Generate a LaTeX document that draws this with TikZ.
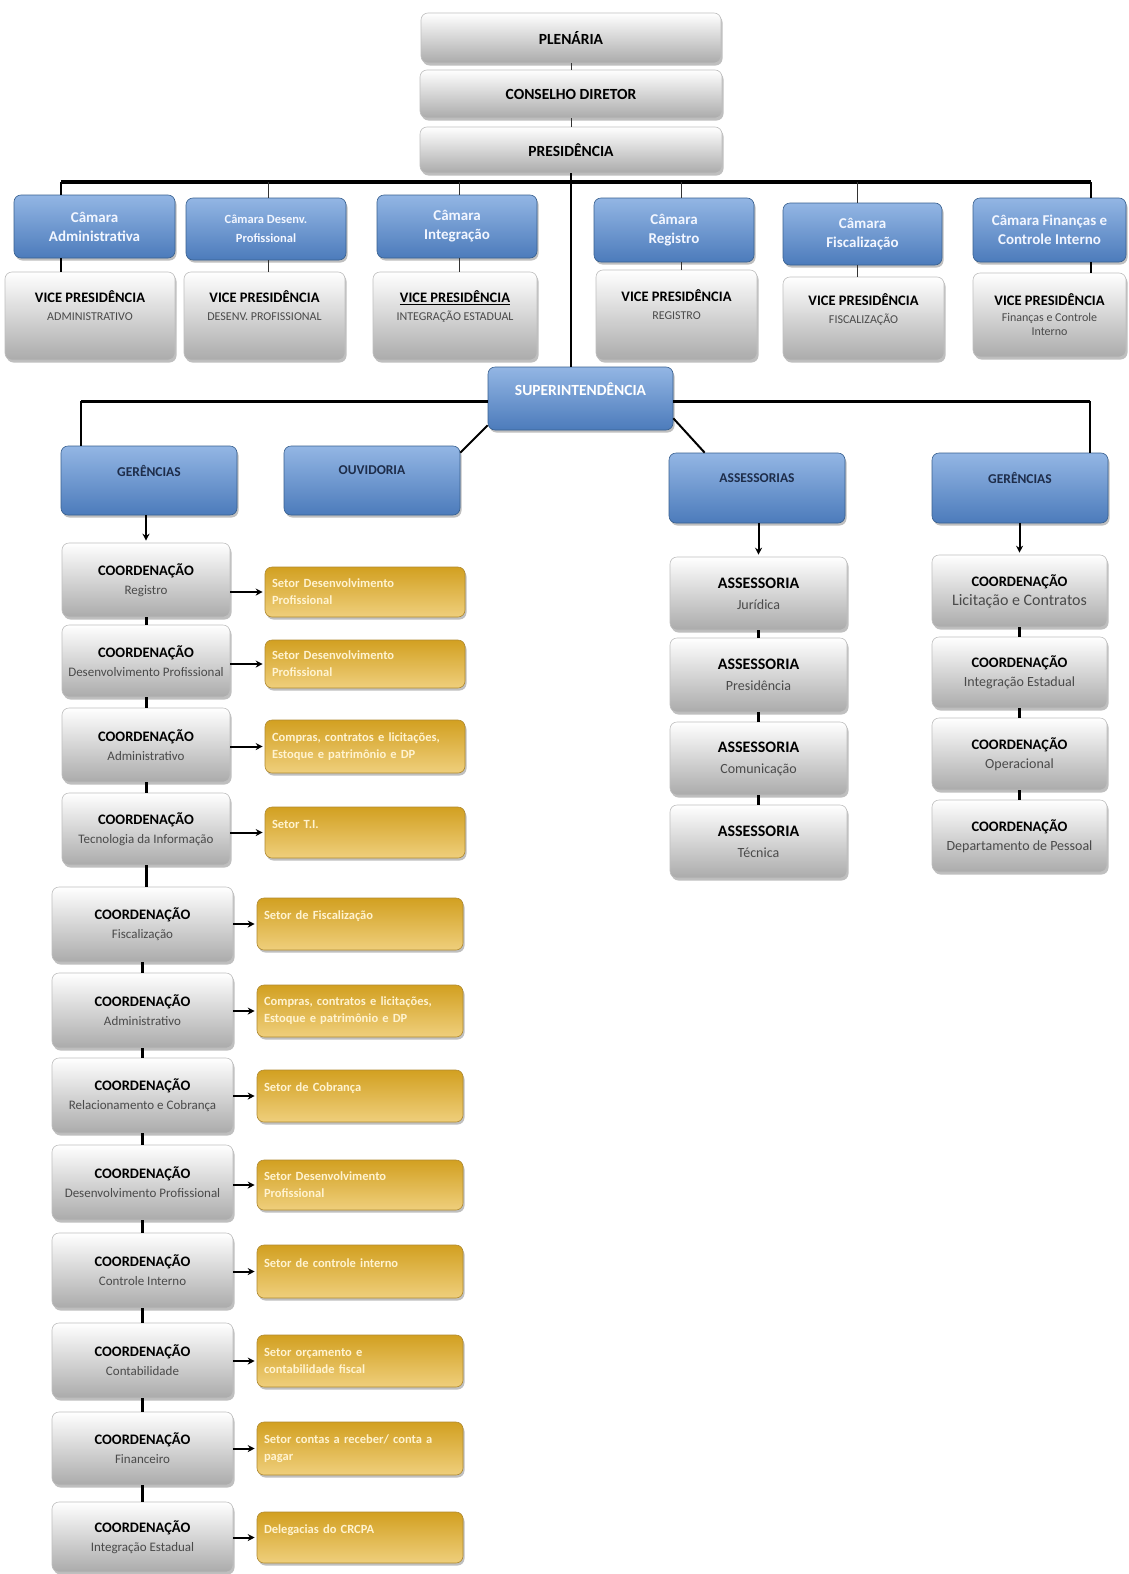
\documentclass[tikz,border=0pt]{standalone}
\usepackage{fontspec}
\setmainfont{Carlito}
\usetikzlibrary{shadows,arrows.meta,calc}
\definecolor{bluetop}{HTML}{93B6E4}
\definecolor{bluebot}{HTML}{4C7BBB}
\definecolor{blueedge}{HTML}{38608F}
\definecolor{navy}{HTML}{1E2D4A}
\definecolor{goldtop}{HTML}{D2A021}
\definecolor{goldbot}{HTML}{EFCF7C}
\definecolor{goldedge}{HTML}{B08A30}
\definecolor{goldtext}{HTML}{FFF3D0}
\definecolor{subc}{HTML}{4A4A4A}
\definecolor{camtext}{HTML}{F2F6FF}
\newcommand{\hdsub}[3][10]{{\bfseries #2}\\{\color{subc}\fontsize{#1}{#1}\selectfont #3}}
\tikzset{
  base/.style={rounded corners=7pt, align=center, inner sep=2pt,
    drop shadow={shadow xshift=1.5pt, shadow yshift=-2.5pt, opacity=.5}},
  bluebox/.style={base, top color=bluetop, bottom color=bluebot, draw=blueedge, line width=0.6pt},
  camara/.style={bluebox, text=camtext, font=\bfseries\fontsize{15}{19}\selectfont},
  supbox/.style={bluebox, text=white, font=\bfseries\fontsize{15.5}{18}\selectfont},
  headbox/.style={bluebox, text=navy, font=\bfseries\fontsize{13.5}{16}\selectfont},
  graybox/.style={base, top color=white, bottom color=black!33, draw=black!25, line width=0.6pt},
  topbox/.style={graybox, font=\bfseries\fontsize{15.5}{18}\selectfont},
  vicebox/.style={graybox, font=\fontsize{14.5}{18}\selectfont},
  coordbox/.style={graybox, font=\fontsize{14.5}{19}\selectfont},
  assbox/.style={graybox, font=\fontsize{16}{21}\selectfont},
  goldbox/.style={base, top color=goldtop, bottom color=goldbot, draw=goldedge, line width=0.6pt,
    text=goldtext, align=left, inner xsep=7pt, font=\bfseries\fontsize{12.5}{17}\selectfont},
  bar/.style={line width=3.5pt},
  thinln/.style={line width=1pt, black!80},
  midln/.style={line width=2pt},
  link/.style={line width=3pt},
  arr/.style={line width=2pt, -{Stealth[length=7pt,width=7pt]}, shorten >=2pt},
}
\begin{document}
\begin{tikzpicture}[x=1pt,y=-1pt]
\useasboundingbox[fill=white] (0,0) rectangle (1128,1574);
% top chain
\node[topbox, minimum width=300, minimum height=50] (plen) at (571,38) {PLENÁRIA};
\node[topbox, minimum width=302, minimum height=48] (cons) at (571,94) {CONSELHO DIRETOR};
\node[topbox, minimum width=302, minimum height=46] (pres) at (571,150) {PRESIDÊNCIA};
\draw[thinln] (plen.south) -- (cons.north);
\draw[thinln] (cons.south) -- (pres.north);
% camaras
\node[camara, minimum width=161, minimum height=63] (c1) at (94.5,226.5) {Câmara\\Administrativa};
\node[camara, minimum width=160, minimum height=62, font=\bfseries\fontsize{12.5}{19}\selectfont] (c2) at (266,229) {Câmara Desenv.\\Profissional};
\node[camara, minimum width=160, minimum height=63] (c3) at (457,226.5) {Câmara\\Integração};
\node[camara, minimum width=160, minimum height=64] (c4) at (674,230) {Câmara\\Registro};
\node[camara, minimum width=159, minimum height=62] (c5) at (862.5,234) {Câmara\\Fiscalização};
\node[camara, minimum width=153, minimum height=64] (c6) at (1049.5,230) {Câmara Finanças e\\Controle Interno};
% vice
\node[vicebox, minimum width=170, minimum height=88] (v1) at (90,316) {\hdsub[12]{VICE PRESIDÊNCIA}{ADMINISTRATIVO}\\[2pt]\mbox{}};
\node[vicebox, minimum width=161, minimum height=88] (v2) at (264.5,316) {\hdsub[12]{VICE PRESIDÊNCIA}{DESENV. PROFISSIONAL}\\[2pt]\mbox{}};
\node[vicebox, minimum width=164, minimum height=88] (v3) at (455,316) {\hdsub[12]{\underline{VICE PRESIDÊNCIA}}{INTEGRAÇÃO ESTADUAL}\\[2pt]\mbox{}};
\node[vicebox, minimum width=161, minimum height=90] (v4) at (676.5,315) {\hdsub[12]{VICE PRESIDÊNCIA}{REGISTRO}\\[2pt]\mbox{}};
\node[vicebox, minimum width=161, minimum height=83] (v5) at (863.5,318.5) {\hdsub[12]{VICE PRESIDÊNCIA}{FISCALIZAÇÃO}\\[2pt]\mbox{}};
\node[vicebox, minimum width=153, minimum height=84] (v6) at (1049.5,315) {{\bfseries VICE PRESIDÊNCIA}\\[-2pt]{\color{subc}\fontsize{12}{14}\selectfont Finanças e Controle}\\[-4pt]{\color{subc}\fontsize{12}{14}\selectfont Interno}};
% horizontal bar under presidencia
\coordinate (t1) at (61,182);
\coordinate (t2) at (268,182);
\coordinate (t3) at (459,182);
\coordinate (t4) at (681,182);
\coordinate (t5) at (857,182);
\coordinate (t6) at (1091,182);
\draw[bar] (t1) -- (t6);
\draw[midln] (t1) -- (t1 |- c1.north);
\draw[thinln] (t2) -- (t2 |- c2.north);
\draw[thinln] (t3) -- (t3 |- c3.north);
\draw[thinln] (t4) -- (t4 |- c4.north);
\draw[thinln] (t5) -- (t5 |- c5.north);
\draw[midln] (t6) -- (t6 |- c6.north);
\draw[midln] (t1 |- c1.south) -- (t1 |- v1.north);
\draw[thinln] (t2 |- c2.south) -- (t2 |- v2.north);
\draw[thinln] (t3 |- c3.south) -- (t3 |- v3.north);
\draw[thinln] (t4 |- c4.south) -- (t4 |- v4.north);
\draw[thinln] (t5 |- c5.south) -- (t5 |- v5.north);
\draw[midln] (t6 |- c6.south) -- (t6 |- v6.north);
% superintendencia
\node[supbox, minimum width=185, minimum height=63] (sup) at (580.5,398.5) {SUPERINTENDÊNCIA\\[0pt]\mbox{}};
\draw[line width=2.2pt] (pres.south) -- (pres.south |- sup.north);
\node[headbox, minimum width=176, minimum height=69] (gerL) at (149,480.5) {GERÊNCIAS\\[4pt]\mbox{}};
\node[headbox, minimum width=176, minimum height=69] (ouv) at (372,480.5) {OUVIDORIA\\[4pt]\mbox{}};
\node[headbox, minimum width=176, minimum height=70] (ass) at (757,488) {ASSESSORIAS\\[4pt]\mbox{}};
\node[headbox, minimum width=176, minimum height=70] (gerR) at (1020,488) {GERÊNCIAS\\[4pt]\mbox{}};
\coordinate (sl) at (81,401);
\coordinate (sr) at (1090,401);
\draw[bar, line width=3pt] (sl) -- (sl -| sup.west);
\draw[bar, line width=3pt] (sl -| sup.east) -- (sr);
\draw[midln, line width=2.5pt] (sl) -- (sl |- gerL.north);
\draw[midln, line width=2.5pt] (sr) -- (sr |- gerR.north);
\draw[midln] ([yshift=-7pt]ouv.north east) -- ([yshift=5pt]sup.south west);
\draw[midln] ([yshift=12pt]sup.south east) -- ([xshift=36pt]ass.north west);
% left column
\node[coordbox, minimum width=168, minimum height=74] (k1) at (146,580) {\hdsub[13]{COORDENAÇÃO}{Registro}};
\node[coordbox, minimum width=168, minimum height=72] (k2) at (146,661) {\hdsub[13]{COORDENAÇÃO}{Desenvolvimento Profissional}};
\node[coordbox, minimum width=168, minimum height=74] (k3) at (146,745) {\hdsub[13]{COORDENAÇÃO}{Administrativo}};
\node[coordbox, minimum width=168, minimum height=72] (k4) at (146,829) {\hdsub[13]{COORDENAÇÃO}{Tecnologia da Informação}};
\node[coordbox, minimum width=181, minimum height=75] (k5) at (142.5,924.5) {\hdsub[13]{COORDENAÇÃO}{Fiscalização}};
\node[coordbox, minimum width=181, minimum height=75] (k6) at (142.5,1010.5) {\hdsub[13]{COORDENAÇÃO}{Administrativo}};
\node[coordbox, minimum width=181, minimum height=75] (k7) at (142.5,1095.5) {\hdsub[13]{COORDENAÇÃO}{Relacionamento e Cobrança}};
\node[coordbox, minimum width=181, minimum height=75] (k8) at (142.5,1182.5) {\hdsub[13]{COORDENAÇÃO}{Desenvolvimento Profissional}};
\node[coordbox, minimum width=181, minimum height=75] (k9) at (142.5,1270.5) {\hdsub[13]{COORDENAÇÃO}{Controle Interno}};
\node[coordbox, minimum width=181, minimum height=75] (k10) at (142.5,1360.5) {\hdsub[13]{COORDENAÇÃO}{Contabilidade}};
\node[coordbox, minimum width=181, minimum height=73] (k11) at (142.5,1448.5) {\hdsub[13]{COORDENAÇÃO}{Financeiro}};
\node[coordbox, minimum width=181, minimum height=70] (k12) at (142.5,1537) {\hdsub[13]{COORDENAÇÃO}{Integração Estadual}};
\draw[arr] (k1.north |- gerL.south) -- (k1.north);
\foreach \a/\b in {k1/k2,k2/k3,k3/k4,k4/k5,k5/k6,k6/k7,k7/k8,k8/k9,k9/k10,k10/k11,k11/k12}
  \draw[link] (\a.south) -- (\a.south |- \b.north);
% gold boxes
\node[goldbox, minimum width=200, minimum height=50, text width=186pt] (g1) at (365,592) {Setor Desenvolvimento\\Profissional};
\node[goldbox, minimum width=200, minimum height=48, text width=186pt] (g2) at (365,664) {Setor Desenvolvimento\\Profissional};
\node[goldbox, minimum width=200, minimum height=53, text width=186pt] (g3) at (365,746.5) {Compras, contratos e licitações,\\Estoque e patrimônio e DP};
\node[goldbox, minimum width=200, minimum height=51, text width=186pt] (g4) at (365,832.5) {Setor T.I.\\\mbox{}};
\node[goldbox, minimum width=206, minimum height=52, text width=192pt] (g5) at (360,924) {Setor de Fiscalização\\\mbox{}};
\node[goldbox, minimum width=206, minimum height=52, text width=192pt] (g6) at (360,1011) {Compras, contratos e licitações,\\Estoque e patrimônio e DP};
\node[goldbox, minimum width=206, minimum height=52, text width=192pt] (g7) at (360,1096) {Setor de Cobrança\\\mbox{}};
\node[goldbox, minimum width=206, minimum height=50, text width=192pt] (g8) at (360,1185) {Setor Desenvolvimento\\Profissional};
\node[goldbox, minimum width=206, minimum height=53, text width=192pt] (g9) at (360,1271.5) {Setor de controle interno\\\mbox{}};
\node[goldbox, minimum width=206, minimum height=52, text width=192pt] (g10) at (360,1361) {Setor orçamento e\\contabilidade fiscal};
\node[goldbox, minimum width=206, minimum height=53, text width=192pt] (g11) at (360,1448.5) {Setor contas a receber/ conta a\\pagar};
\node[goldbox, minimum width=206, minimum height=51, text width=192pt] (g12) at (360,1537.5) {Delegacias do CRCPA\\\mbox{}};
\foreach \i in {1,...,12}
  \draw[arr] (g\i.west -| k\i.east) -- (g\i.west);
% assessorias column
\node[assbox, minimum width=177, minimum height=73] (as1) at (758.5,593.5) {\hdsub[14]{ASSESSORIA}{Jurídica}};
\node[assbox, minimum width=177, minimum height=74] (as2) at (758.5,675) {\hdsub[14]{ASSESSORIA}{Presidência}};
\node[assbox, minimum width=177, minimum height=73] (as3) at (758.5,758.5) {\hdsub[14]{ASSESSORIA}{Comunicação}};
\node[assbox, minimum width=177, minimum height=73] (as4) at (758.5,841.5) {\hdsub[14]{ASSESSORIA}{Técnica}};
\draw[arr] (as1.north |- ass.south) -- (as1.north);
\foreach \a/\b in {as1/as2,as2/as3,as3/as4}
  \draw[link] (\a.south) -- (\a.south |- \b.north);
% right gerencias column
\node[coordbox, minimum width=175, minimum height=72] (r1) at (1019.5,591) {\hdsub[16]{COORDENAÇÃO}{Licitação e Contratos}};
\node[coordbox, minimum width=175, minimum height=71] (r2) at (1019.5,672.5) {\hdsub[14]{COORDENAÇÃO}{Integração Estadual}};
\node[coordbox, minimum width=175, minimum height=72] (r3) at (1019.5,754) {\hdsub[14]{COORDENAÇÃO}{Operacional}};
\node[coordbox, minimum width=175, minimum height=72] (r4) at (1019.5,836) {\hdsub[14]{COORDENAÇÃO}{Departamento de Pessoal}};
\draw[arr] (r1.north |- gerR.south) -- (r1.north);
\foreach \a/\b in {r1/r2,r2/r3,r3/r4}
  \draw[link] (\a.south) -- (\a.south |- \b.north);
\end{tikzpicture}
\end{document}
